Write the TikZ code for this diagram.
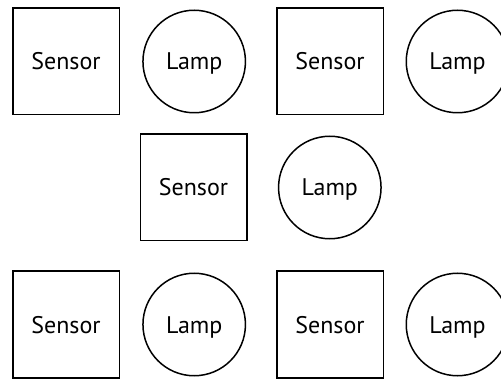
\documentclass[tikz,border=0pt]{standalone}
\usepackage{fontspec}
\setmainfont{PT Sans}
\begin{document}
\begin{tikzpicture}[x=1pt,y=1pt,
  labelfont/.style={font=\fontsize{24}{28}\selectfont, text height=17pt, text depth=0pt},
  sensorbox/.style={draw=black, line width=1.5pt, rectangle, minimum size=106.5pt, inner sep=0pt, labelfont},
  lampcircle/.style={draw=black, line width=1.5pt, circle, minimum size=102.5pt, inner sep=0pt, labelfont}]
\clip (0,0) rectangle (501,378);
\fill[white] (0,0) rectangle (501,378);
\node[sensorbox] (s1) at (66,316.5) {Sensor};
\node[lampcircle] (l1) at (194.2,316.5) {Lamp};
\node[sensorbox] (s2) at (330,316.5) {Sensor};
\node[lampcircle] (l2) at (457.5,316.5) {Lamp};
\node[sensorbox] (s3) at (193.5,190.5) {Sensor};
\node[lampcircle] (l3) at (329.8,190.5) {Lamp};
\node[sensorbox] (s4) at (66,53.5) {Sensor};
\node[lampcircle] (l4) at (194.2,53.5) {Lamp};
\node[sensorbox] (s5) at (330,53.5) {Sensor};
\node[lampcircle] (l5) at (457.5,53.5) {Lamp};
\end{tikzpicture}
\end{document}
